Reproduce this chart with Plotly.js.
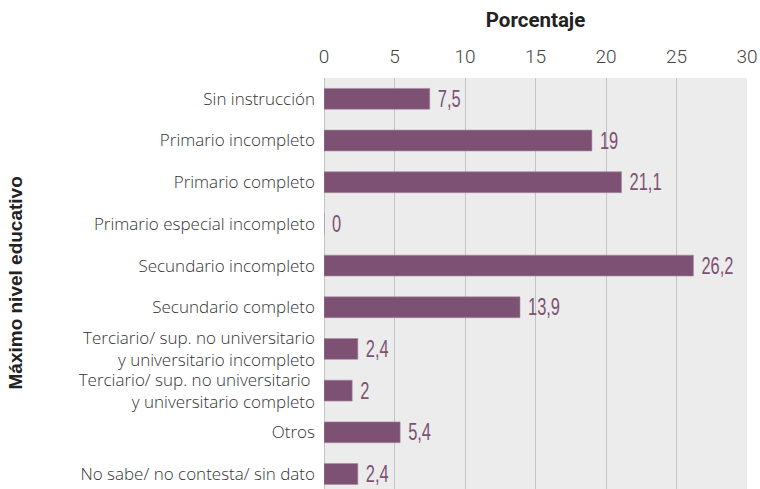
<!DOCTYPE html>
<html>
<head>
<meta charset="utf-8">
<script src="https://cdn.plot.ly/plotly-3.0.1.min.js"></script>
<style>body{margin:0;background:#fff}#chart{width:760px;height:489px}</style>
</head>
<body>
<div id="chart"></div>
<script>
// data
var categories = [
  "Sin instrucción",
  "Primario incompleto",
  "Primario completo",
  "Primario especial incompleto",
  "Secundario incompleto",
  "Secundario completo",
  "Terciario/ sup. no universitario<br>y universitario incompleto",
  "Terciario/ sup. no universitario <br>y universitario completo",
  "Otros",
  "No sabe/ no contesta/ sin dato"
];
var values = [7.5, 19, 21.1, 0, 26.2, 13.9, 2.4, 2, 5.4, 2.4];
var xTicks = [0, 5, 10, 15, 20, 25, 30];

// comma as decimal mark
var labels = values.map(function (v) { return String(v).replace('.', ','); });

var data = [{
  type: 'bar',
  orientation: 'h',
  y: categories,
  x: values,
  text: labels,
  textposition: 'outside',
  constraintext: 'none',
  cliponaxis: false,
  width: 0.5,
  marker: { color: '#7d5174', line: { color: '#a8899f', width: 0.6 } },
  textfont: { family: '"Liberation Sans", Arial, sans-serif', size: 23.5, color: '#7d5174' },
  hoverinfo: 'x+y'
}];

var layout = {
  width: 760,
  height: 489,
  margin: { l: 324, r: 13, t: 78, b: 0 },
  paper_bgcolor: '#ffffff',
  plot_bgcolor: '#ececec',
  showlegend: false,
  bargap: 0.5,
  xaxis: {
    side: 'top',
    range: [0, 30],
    tickvals: xTicks,
    ticktext: xTicks.map(String),
    showgrid: true,
    gridcolor: '#c4c4c4',
    gridwidth: 1,
    zeroline: true,
    zerolinecolor: '#c4c4c4',
    zerolinewidth: 1,
    showline: false,
    ticks: '',
    ticklabelstandoff: 10,
    tickfont: { family: 'Roboto, sans-serif', size: 19, color: '#444', weight: 300 },
    title: { text: 'Porcentaje', font: { family: 'Roboto, sans-serif', size: 20.5, color: '#222', weight: 700 }, standoff: 12 },
    fixedrange: true
  },
  yaxis: {
    type: 'category',
    range: [9.36, -0.5],
    showgrid: false,
    zeroline: false,
    ticks: '',
    ticklabelstandoff: 8,
    tickfont: { family: '"Open Sans", sans-serif', size: 17, color: '#333', weight: 300 },
    fixedrange: true
  },
  annotations: [{
    text: 'Máximo nivel educativo',
    xref: 'paper', yref: 'paper',
    x: 0, y: 0.5,
    xshift: -309,
    xanchor: 'center', yanchor: 'middle',
    textangle: -90,
    showarrow: false,
    font: { family: '"Liberation Sans", Arial, sans-serif', size: 19, color: '#222', weight: 700 }
  }]
};

Plotly.newPlot('chart', data, layout, { displayModeBar: false, staticPlot: true }).then(function (gd) {
  // no condensed font installed: squeeze the value labels from their left edge
  var texts = gd.querySelectorAll('.bars .bartext text, .bars text.bartext');
  texts.forEach(function (el) {
    var b = el.getBBox();
    var t = el.getAttribute('transform') || '';
    el.setAttribute('transform', t + ' translate(' + (b.x + 5) + ',0) scale(0.7,1) translate(' + (-b.x) + ',0)');
  });
});
</script>
</body>
</html>
